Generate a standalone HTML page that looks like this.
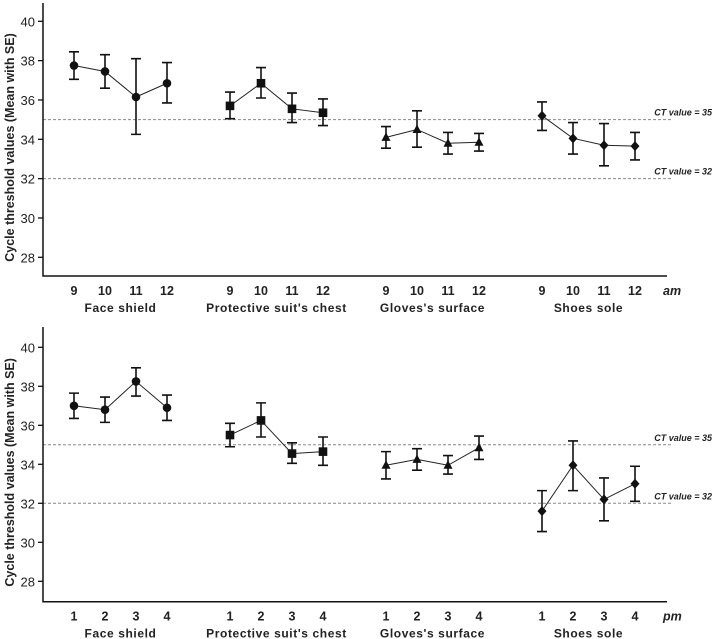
<!DOCTYPE html>
<html><head><meta charset="utf-8"><style>
body{margin:0;background:#fff}
svg{display:block;font-family:"Liberation Sans",Arial,sans-serif}
</style></head><body>
<svg id="chart" width="714" height="639" viewBox="0 0 714 639"></svg>
<script>
const groups=["Face shield","Protective suit's chest","Gloves's surface","Shoes sole"];
const amTimes=["9","10","11","12"];
const pmTimes=["1","2","3","4"];
const yTicks=[28,30,32,34,36,38,40];
const refLines=[35,32];
const amMean=[[37.75,37.45,36.15,36.85],[35.7,36.85,35.55,35.35],[34.1,34.5,33.8,33.85],[35.2,34.05,33.7,33.65]];
const amLo=[[37.05,36.6,34.25,35.85],[35.05,36.1,34.85,34.7],[33.55,33.6,33.25,33.4],[34.45,33.25,32.65,32.95]];
const amHi=[[38.45,38.3,38.1,37.9],[36.4,37.65,36.35,36.05],[34.65,35.45,34.35,34.3],[35.9,34.85,34.8,34.35]];
const pmMean=[[37.0,36.8,38.25,36.9],[35.5,36.25,34.55,34.65],[33.95,34.25,33.95,34.85],[31.6,33.95,32.2,33.0]];
const pmLo=[[36.35,36.15,37.5,36.25],[34.9,35.4,34.05,33.95],[33.25,33.7,33.5,34.25],[30.55,32.65,31.1,32.1]];
const pmHi=[[37.65,37.45,38.95,37.55],[36.1,37.15,35.1,35.4],[34.65,34.8,34.45,35.45],[32.65,35.2,33.3,33.9]];
const NS="http://www.w3.org/2000/svg";
const svg=document.getElementById('chart');
function mk(tag,attrs,parent,text){const e=document.createElementNS(NS,tag);for(const k in attrs)e.setAttribute(k,attrs[k]);if(text!==undefined)e.textContent=text;(parent||svg).appendChild(e);return e;}
function panel(top,y40,y28,axisY,times,mean,lo,hi,suffix,name){
  const g=mk('g',{});
  
  
  const ys=v=>y28+(v-28)*(y40-y28)/12;
  const xs=(gi,i)=>74+gi*156+i*31;
  refLines.forEach(r=>{
    const l=mk('line',{x1:43,x2:672,y1:ys(r),y2:ys(r),stroke:'#888','stroke-dasharray':'3,2','stroke-width':1},g);
    
    
    const t=mk('text',{x:712,y:ys(r)-4,'text-anchor':'end','font-size':9,'font-style':'italic','font-weight':'bold',fill:'#222'},g,'CT value = '+r);
    
    
  });
  const ax=mk('path',{d:`M43,${top} V${axisY} H667`,stroke:'#111','stroke-width':1.5,fill:'none'},g);
  
  
  yTicks.forEach(v=>{
    mk('line',{x1:38,x2:43,y1:ys(v),y2:ys(v),stroke:'#111','stroke-width':1.3},g);
    const t=mk('text',{x:35,y:ys(v)+5,'text-anchor':'end','font-size':13,fill:'#222'},g,v);
    
    
  });
  const yt=mk('text',{x:0,y:0,transform:`translate(14,${(top+axisY)/2+8}) rotate(-90)`,'text-anchor':'middle','font-size':12.5,'font-weight':'bold',fill:'#222'},g,'Cycle threshold values (Mean with SE)');
  
  
  groups.forEach((gn,gi)=>{
    times.forEach((tm,i)=>{
      const t=mk('text',{x:xs(gi,i),y:axisY+19,'text-anchor':'middle','font-size':12.5,'font-weight':'bold',fill:'#222'},g,tm);
      
      
    });
    const gl=mk('text',{x:xs(gi,1.5),y:axisY+36,'text-anchor':'middle','font-size':12,'font-weight':'bold','letter-spacing':'0.6',fill:'#222'},g,gn);
    
    
    const pts=mean[gi].map((m,i)=>xs(gi,i)+','+ys(m)).join(' ');
    const pl=mk('polyline',{points:pts,fill:'none',stroke:'#222','stroke-width':1},g);
    
    
    mean[gi].forEach((m,i)=>{
      const x=xs(gi,i);
      const e=mk('path',{d:`M${x},${ys(lo[gi][i])} V${ys(hi[gi][i])} M${x-5},${ys(lo[gi][i])} h10 M${x-5},${ys(hi[gi][i])} h10`,stroke:'#111','stroke-width':1.6,fill:'none'},g);
      
      
      const y=ys(m);let p;
      if(gi===0)p=mk('circle',{cx:x,cy:y,r:4.3,fill:'#111'},g);
      else if(gi===1)p=mk('rect',{x:x-4.3,y:y-4.3,width:8.6,height:8.6,fill:'#111'},g);
      else if(gi===2)p=mk('polygon',{points:`${x},${y-5} ${x-4.5},${y+3.5} ${x+4.5},${y+3.5}`,fill:'#111'},g);
      else p=mk('polygon',{points:`${x},${y-5} ${x+4.5},${y} ${x},${y+5} ${x-4.5},${y}`,fill:'#111'},g);
      
      
    });
  });
  const s=mk('text',{x:663,y:axisY+19,'font-size':12.5,'font-weight':'bold','font-style':'italic',fill:'#222'},g,suffix);
  
  
}
panel(3,21.3,257.3,276,amTimes,amMean,amLo,amHi,'am','am-panel');
panel(327,347.3,581.3,601.7,pmTimes,pmMean,pmLo,pmHi,'pm','pm-panel');
</script>
</body></html>
